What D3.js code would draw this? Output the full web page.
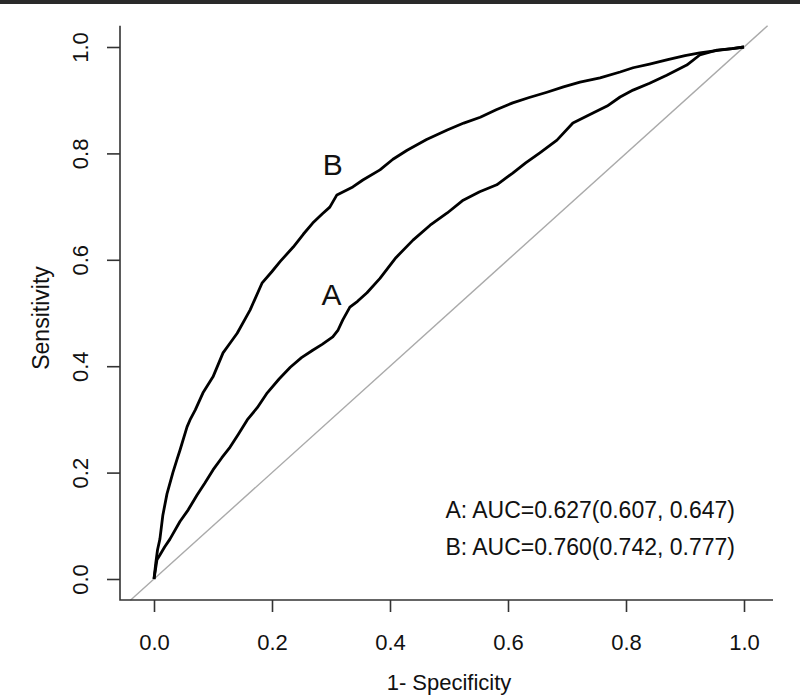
<!DOCTYPE html>
<html><head><meta charset="utf-8">
<script src="https://cdn.jsdelivr.net/npm/d3@7"></script>
<style>body{margin:0;background:#fff}svg{display:block}text{font-family:"Liberation Sans",Arial,sans-serif;fill:#111}</style>
</head><body>
<svg id="c" width="800" height="698"></svg>
<script>
const fprA=[0,0.005,0.010,0.018,0.027,0.044,0.058,0.073,0.086,0.100,0.115,0.129,0.143,0.158,0.175,0.192,0.212,0.231,0.250,0.269,0.285,0.303,0.312,0.320,0.332,0.345,0.361,0.383,0.410,0.439,0.468,0.497,0.524,0.552,0.581,0.608,0.630,0.654,0.683,0.710,0.744,0.768,0.790,0.812,0.840,0.869,0.903,0.925,0.954,0.980,1];
const tprA=[0,0.036,0.045,0.060,0.075,0.108,0.130,0.158,0.180,0.205,0.228,0.248,0.272,0.299,0.322,0.350,0.376,0.398,0.416,0.430,0.441,0.455,0.468,0.487,0.511,0.522,0.538,0.565,0.604,0.637,0.665,0.688,0.712,0.728,0.741,0.763,0.782,0.801,0.825,0.857,0.876,0.889,0.906,0.919,0.932,0.947,0.966,0.985,0.994,0.997,1];
const fprB=[0,0.003,0.006,0.010,0.015,0.022,0.032,0.039,0.044,0.056,0.061,0.070,0.083,0.100,0.117,0.130,0.141,0.163,0.183,0.200,0.214,0.236,0.253,0.269,0.285,0.298,0.310,0.337,0.354,0.383,0.405,0.429,0.462,0.497,0.525,0.553,0.580,0.608,0.636,0.666,0.694,0.722,0.756,0.790,0.812,0.840,0.869,0.900,0.925,0.959,0.980,1];
const tprB=[0,0.030,0.055,0.075,0.120,0.160,0.200,0.225,0.242,0.286,0.299,0.318,0.350,0.380,0.425,0.445,0.462,0.506,0.556,0.578,0.597,0.624,0.648,0.669,0.686,0.699,0.722,0.737,0.750,0.769,0.789,0.806,0.826,0.844,0.857,0.868,0.882,0.895,0.905,0.915,0.925,0.934,0.942,0.953,0.961,0.968,0.976,0.984,0.989,0.994,0.997,1];
const xTicks=[0,0.2,0.4,0.6,0.8,1.0];
const yTicks=[0,0.2,0.4,0.6,0.8,1.0];
const legendLines=["A: AUC=0.627(0.607, 0.647)","B: AUC=0.760(0.742, 0.777)"];
const curveLabels=[{name:"A",x:0.301,y:0.515},{name:"B",x:0.303,y:0.76}];

const svg=d3.select("#c");
const x=d3.scaleLinear().domain([0,1]).range([154,744]);
const y=d3.scaleLinear().domain([0,1]).range([579,47]);
const fmt=d3.format(".1f");

svg.append("rect").attr("x",0).attr("y",0).attr("width",800).attr("height",4).attr("fill","#2a2a2a");

svg.append("line").attr("x1",x(-0.04)).attr("y1",y(-0.04)).attr("x2",x(1.04)).attr("y2",y(1.04))
  .attr("stroke","#aaa").attr("stroke-width",1.4);

svg.append("path").attr("d",`M120,${y(1.04)}V600H773`).attr("fill","none").attr("stroke","#333").attr("stroke-width",1.6);

const gx=svg.append("g").attr("transform","translate(0,600)")
  .call(d3.axisBottom(x).tickValues(xTicks).tickFormat(fmt).tickSize(12).tickSizeOuter(0));
gx.select(".domain").remove();
gx.selectAll("line").attr("stroke","#333").attr("stroke-width",1.6);
gx.selectAll("text").attr("y",50).attr("dy",0).style("font-size","22px").attr("fill","#111");

const gy=svg.append("g").attr("transform","translate(120,0)")
  .call(d3.axisLeft(y).tickValues(yTicks).tickFormat(fmt).tickSize(13).tickSizeOuter(0));
gy.select(".domain").remove();
gy.selectAll("line").attr("stroke","#333").attr("stroke-width",1.6);
gy.selectAll("text").attr("x",0).attr("dy",0).attr("transform","translate(-32,0) rotate(-90)")
  .attr("text-anchor","middle").style("font-size","22px").attr("fill","#111");

const line=d3.line().x(d=>x(d[0])).y(d=>y(d[1]));
[[fprA,tprA],[fprB,tprB]].forEach(([f,t])=>{
  svg.append("path").datum(f.map((v,i)=>[v,t[i]])).attr("d",line)
    .attr("fill","none").attr("stroke","#000").attr("stroke-width",2.8).attr("stroke-linejoin","round");
});

svg.selectAll(".cl").data(curveLabels).enter().append("text")
  .attr("x",d=>x(d.x)).attr("y",d=>y(d.y)).attr("text-anchor","middle")
  .style("font-size","30px").text(d=>d.name);

svg.selectAll(".lg").data(legendLines).enter().append("text")
  .attr("x",735).attr("y",(d,i)=>518+i*37).attr("text-anchor","end")
  .style("font-size","23px").text(d=>d);

svg.append("text").attr("x",449).attr("y",690).attr("text-anchor","middle").style("font-size","22px").text("1- Specificity");
svg.append("text").attr("transform","translate(49,318) rotate(-90)").attr("text-anchor","middle").style("font-size","23px").text("Sensitivity");
</script>
</body></html>
